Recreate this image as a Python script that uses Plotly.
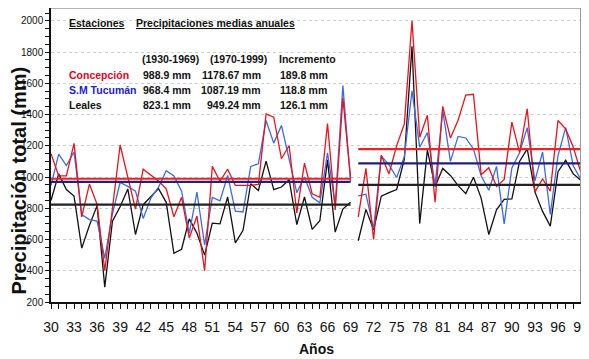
import plotly.graph_objects as go

# anos (dos digitos) de cada periodo
anios_1 = list(range(30, 70))
anios_2 = list(range(70, 100))

# precipitacion anual (mm) 1930-1969
concepcion_1 = [1150, 1008, 1008, 1215, 745, 955, 825, 400, 800, 1205,
                1000, 795, 1050, 1012, 975, 925, 745, 870, 610, 750,
                400, 1068, 973, 1050, 946, 946, 946, 953, 1404, 1383,
                1117, 1202, 770, 1089, 893, 870, 1342, 789, 1505, 993]
tucuman_1 = [945, 1147, 1073, 1160, 760, 728, 718, 480, 765, 965,
             940, 910, 735, 865, 935, 1040, 1007, 910, 640, 903,
             565, 870, 847, 1010, 782, 776, 1068, 1085, 1362, 1217,
             1330, 1106, 900, 1000, 870, 835, 1155, 821, 1585, 972]
leales_1 = [850, 1020, 920, 878, 545, 690, 817, 295, 718, 810,
            924, 632, 823, 875, 926, 838, 512, 538, 732, 640,
            500, 705, 700, 872, 578, 659, 957, 914, 1102, 919,
            936, 983, 696, 872, 665, 720, 1110, 647, 795, 838]

# precipitacion anual (mm) 1970-1999
concepcion_2 = [745, 1055, 600, 1140, 1020, 1200, 1340, 2000, 1255, 1395,
                839, 1452, 1250, 1364, 1524, 1530, 1015, 1060, 940, 985,
                1352, 1158, 1437, 905, 988, 910, 1362, 1308, 1191, 1025]
tucuman_2 = [880, 890, 670, 1135, 1078, 997, 1130, 1552, 1191, 1285,
             945, 1427, 1100, 1260, 1250, 1180, 1008, 915, 1068, 700,
             1058, 1155, 1316, 975, 1160, 760, 1135, 1316, 1070, 983]
leales_2 = [592, 793, 662, 878, 900, 920, 1115, 1837, 702, 1172,
            940, 1055, 1010, 945, 894, 999, 865, 632, 790, 857,
            860, 1100, 1180, 905, 780, 686, 1034, 1107, 1020, 978]

estaciones = ["Concepción", "S.M Tucumán", "Leales"]
medias_1 = [988.9, 968.4, 823.1]
medias_2 = [1178.67, 1087.19, 949.24]
incremento = [189.8, 118.8, 126.1]

x_ticks = list(range(30, 100, 3))
y_ticks = list(range(200, 2001, 200))

FONT = "Liberation Sans, Arial, sans-serif"
col_linea = ["#e8141c", "#3d6be3", "#111111"]
col_media = ["#e3262a", "#20207a", "#222222"]
col_texto = ["#e6001a", "#1c1cd6", "#111111"]

series_1 = [concepcion_1, tucuman_1, leales_1]
series_2 = [concepcion_2, tucuman_2, leales_2]

fig = go.Figure()

# dibujar negro, azul, rojo (rojo arriba)
for i in [2, 1, 0]:
    for xs, ys in [(anios_1, series_1[i]), (anios_2, series_2[i])]:
        fig.add_trace(go.Scatter(x=xs, y=ys, mode="lines",
                                 line=dict(color=col_linea[i], width=1.3),
                                 showlegend=False, hoverinfo="skip"))

# medias de cada periodo
for i in [2, 1, 0]:
    fig.add_trace(go.Scatter(x=[anios_1[0], anios_1[-1]], y=[medias_1[i]] * 2, mode="lines",
                             line=dict(color=col_media[i], width=2.2),
                             showlegend=False, hoverinfo="skip"))
    fig.add_trace(go.Scatter(x=[anios_2[0], anios_2[-1]], y=[medias_2[i]] * 2, mode="lines",
                             line=dict(color=col_media[i], width=2.2),
                             showlegend=False, hoverinfo="skip"))

# la pagina tiene 8px de margen en el body: se compensa
OFF = 8
W, H = 589 - OFF, 359 - OFF
x_izq, x_der, y_sup, y_inf = 51, 583, 8, 302   # area del grafico en pantalla


def px(x):
    return (x - x_izq) / (x_der - x_izq)


def py(y):
    return (y_inf - y) / (y_inf - y_sup)


font_b = dict(family=FONT, size=10.5, color="#111111")
ann = []
ann.append(dict(text="<b><u>Estaciones</u></b>", x=px(67), y=py(23)))
ann.append(dict(text="<b><u>Precipitaciones medias anuales</u></b>", x=px(134), y=py(23)))
ann.append(dict(text="<b>(1930-1969)</b>", x=px(140), y=py(59)))
ann.append(dict(text="<b>(1970-1999)</b>", x=px(209), y=py(59)))
ann.append(dict(text="<b>Incremento</b>", x=px(278), y=py(59)))
for i, nombre in enumerate(estaciones):
    yy = py(75 + 15 * i)
    ann.append(dict(text="<b>%s</b>" % nombre, x=px(67), y=yy,
                    font=dict(family=FONT, size=10.5, color=col_texto[i])))
    ann.append(dict(text="<b>%.1f mm</b>" % medias_1[i], x=px(141), y=yy))
    ann.append(dict(text="<b>%.2f mm</b>" % medias_2[i], x=px(264), y=yy, xanchor="right"))
    ann.append(dict(text="<b>%.1f mm</b>" % incremento[i], x=px(279), y=yy))

for a in ann:
    a.setdefault("xanchor", "left")
    a.setdefault("font", font_b)
    a.update(xref="paper", yref="paper", yanchor="middle", showarrow=False)
    fig.add_annotation(**a)

fig.add_annotation(text="<b>Precipitación total (mm)</b>", xref="paper", yref="paper",
                   x=px(18.5), y=py(181), textangle=-90, showarrow=False,
                   xanchor="center", yanchor="middle",
                   font=dict(family=FONT, size=20, color="#111111"))
fig.add_annotation(text="<b>Años</b>", xref="paper", yref="paper",
                   x=0.5, y=py(349), showarrow=False, xanchor="center", yanchor="middle",
                   font=dict(family=FONT, size=14, color="#111111"))

# marco gris arriba y a la derecha
fig.add_shape(type="line", xref="paper", yref="paper", x0=0, x1=1, y0=1, y1=1,
              line=dict(color="#9a9a9a", width=1.5))
fig.add_shape(type="line", xref="paper", yref="paper", x0=1, x1=1, y0=0, y1=1,
              line=dict(color="#9a9a9a", width=2))

fig.update_layout(
    width=W, height=H,
    margin=dict(l=x_izq - OFF, r=W - (x_der - OFF), t=y_sup - OFF, b=H - (y_inf - OFF), pad=0),
    plot_bgcolor="white", paper_bgcolor="white",
    showlegend=False,
    xaxis=dict(range=[30, 99], tickvals=x_ticks, ticktext=[str(v) for v in x_ticks],
               ticks="outside", ticklen=5, tickcolor="#111111", tickwidth=1,
               ticklabelstandoff=6, ticklabeloverflow="allow",
               showline=True, linecolor="#111111", linewidth=1.5,
               showgrid=False, zeroline=False,
               minor=dict(dtick=1, ticks="outside", ticklen=5, tickcolor="#111111", showgrid=False),
               tickfont=dict(family=FONT, size=14, color="#111111")),
    yaxis=dict(range=[200, 2082], tickvals=y_ticks,
               ticks="outside", ticklen=4, tickcolor="#111111", tickwidth=1,
               showline=True, linecolor="#111111", linewidth=1.5,
               showgrid=True, gridcolor="#cccccc", griddash="dot", gridwidth=1,
               zeroline=False,
               minor=dict(dtick=50, ticks="outside", ticklen=4, tickcolor="#111111", showgrid=False),
               tickfont=dict(family=FONT, size=10, color="#111111")),
)

fig.write_html("out.html")
